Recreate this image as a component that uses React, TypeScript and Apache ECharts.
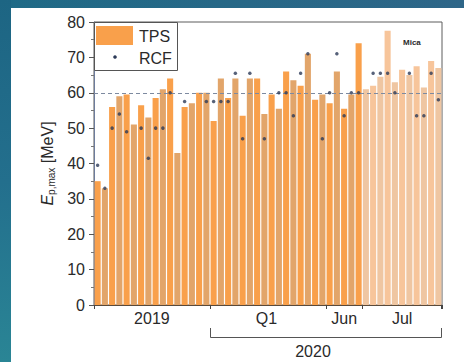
import React, { useEffect, useRef } from "react";
import * as echarts from "echarts";

const periods = ["2019", "Q1", "Jun", "Jul"];
const periodCounts = [16, 16, 5, 11];
const labelIndex = [7, 23, 34, 42];
const tickIndex = [0, 16, 32, 37];
const yTicks = [0, 10, 20, 30, 40, 50, 60, 70, 80];

const tpsValues = [
  35, 33, 56, 59, 59.5, 51, 56.5, 53, 58.5, 61, 64, 43, 56, 57, 60, 60,
  52, 64, 58.5, 64, 53.5, 64, 64, 54, 59.5, 55.5, 66, 63.5, 62, 71, 58, 59.5,
  57, 66, 55.5, 59.5, 74,
  61, 62, 64.5, 77.5, 63, 66.5, 65, 67.5, 61.5, 69, 67,
];

const rcfValues = [
  39.5, 33, 50, 54, 49, null, 50, 41.5, 50, 50, 60, null, 57.5, null, null, 57.5,
  57.5, 57.5, 57.5, 65.5, 47, 65.5, null, 47, null, 60, 60, 53.5, 65.5, 71, null, 47,
  60, 71, 53.5, 60, 60,
  null, 65.5, 65.5, 65.5, 60, null, 65.5, 53.5, 53.5, 65.5, 58,
];

const referenceLevel = 60;

const categories: string[] = periods.flatMap((p, k) =>
  Array.from({ length: periodCounts[k] }, (_, j) => `${p} #${j + 1}`)
);

const FONT = "'Liberation Sans', Arial, sans-serif";

export default function App() {
  const ref = useRef<HTMLDivElement>(null);
  useEffect(() => {
    if (!ref.current) return;
    const chart = echarts.init(ref.current, undefined, { renderer: "svg" });
    const julStart = periodCounts[0] + periodCounts[1] + periodCounts[2];
    chart.setOption({
      animation: false,
      backgroundColor: "#ffffff",
      grid: {
        left: 94,
        top: 22,
        width: 348,
        height: 283,
        show: true,
        borderColor: "#5c5c5c",
        borderWidth: 1,
        backgroundColor: "#ffffff",
      },
      xAxis: {
        type: "category",
        data: categories,
        boundaryGap: true,
        axisLine: { show: true, lineStyle: { color: "#5a4a3a", width: 1 } },
        axisTick: {
          show: true,
          interval: (i: number) => tickIndex.includes(i),
          length: 4,
          lineStyle: { color: "#444" },
        },
        axisLabel: {
          interval: (i: number) => labelIndex.includes(i),
          formatter: (_v: string, i: number) => {
            const k = labelIndex.indexOf(i);
            if (k < 0) return "";
            const key = k === 0 ? "a" : k === 1 ? "b" : "c";
            return `{${key}|${periods[k]}}`;
          },
          margin: 5,
          fontSize: 16,
          color: "#2a2a2a",
          fontFamily: FONT,
          rich: {
            a: { fontSize: 16, color: "#2a2a2a", fontFamily: FONT, padding: [0, 0, 0, 7] },
            b: { fontSize: 16, color: "#2a2a2a", fontFamily: FONT, padding: [0, 0, 0, 4] },
            c: { fontSize: 16, color: "#2a2a2a", fontFamily: FONT },
          },
        },
        splitLine: { show: false },
      },
      yAxis: {
        type: "value",
        min: yTicks[0],
        max: yTicks[yTicks.length - 1],
        interval: 10,
        axisLine: { show: true, lineStyle: { color: "#6d7c9c", width: 1 } },
        axisTick: { show: true, inside: false, length: 5, lineStyle: { color: "#555" } },
        minorTick: { show: true, splitNumber: 2, length: 3, lineStyle: { color: "#777" } },
        splitLine: { show: false },
        axisLabel: { fontSize: 16, color: "#2a2a2a", margin: 9, fontFamily: FONT },
        name: "{e|E}{s|p,max}{u| [MeV]}",
        nameLocation: "middle",
        nameGap: 38,
        nameRotate: 90,
        nameTextStyle: {
          fontFamily: FONT,
          rich: {
            e: { fontSize: 16, fontStyle: "italic", color: "#2a2a2a", fontFamily: FONT, lineHeight: 18 },
            s: { fontSize: 10, color: "#2a2a2a", fontFamily: FONT, verticalAlign: "bottom", lineHeight: 12 },
            u: { fontSize: 16, color: "#2a2a2a", fontFamily: FONT, lineHeight: 18 },
          },
        },
      },
      series: [
        {
          name: "TPS",
          type: "bar",
          data: tpsValues,
          barCategoryGap: "16%",
          itemStyle: {
            color: (p: any) => {
              const odd = p.dataIndex % 2 === 1;
              if (p.dataIndex >= julStart) return odd ? "#efc6a2" : "#f7c59b";
              return odd ? "#e2a56a" : "#f9a04b";
            },
          },
          z: 2,
        },
        {
          name: "RCF",
          type: "scatter",
          data: rcfValues.map((v) => (v == null ? "-" : v)),
          symbol: "circle",
          symbolSize: 3.5,
          itemStyle: { color: "#2c3a58" },
          z: 5,
          markLine: {
            silent: true,
            symbol: "none",
            label: { show: false },
            lineStyle: { color: "#7d8aa0", type: [4, 3], width: 1 },
            data: [{ yAxis: referenceLevel }],
          },
        },
      ],
      graphic: [
        {
          type: "rect",
          shape: { x: 0, y: 0, width: 464, height: 8 },
          style: {
            fill: new echarts.graphic.LinearGradient(0, 0, 1, 0, [
              { offset: 0, color: "#1f6a86" },
              { offset: 1, color: "#2e6688" },
            ]),
          },
          z: 0,
        },
        {
          type: "rect",
          shape: { x: 0, y: 0, width: 11, height: 362 },
          style: {
            fill: new echarts.graphic.LinearGradient(0, 0, 0, 1, [
              { offset: 0, color: "#1d6583" },
              { offset: 0.5, color: "#236f8d" },
              { offset: 1, color: "#2a8595" },
            ]),
          },
          z: 0,
        },
        {
          type: "line",
          shape: { x1: 441.5, y1: 305, x2: 441.5, y2: 309 },
          style: { stroke: "#444", lineWidth: 1 },
          z: 11,
        },
        {
          type: "rect",
          shape: { x: 94.5, y: 22.5, width: 83, height: 48 },
          style: { fill: "#ffffff", stroke: "#555", lineWidth: 1 },
          z: 10,
        },
        {
          type: "rect",
          shape: { x: 96, y: 26, width: 37, height: 19 },
          style: { fill: "#f9a04b" },
          z: 11,
        },
        {
          type: "text",
          x: 139,
          y: 36,
          style: { text: "TPS", fontSize: 16, fontFamily: FONT, fill: "#2a2a2a", verticalAlign: "middle" },
          z: 11,
        },
        {
          type: "circle",
          shape: { cx: 115, cy: 57, r: 1.8 },
          style: { fill: "#2c3a58" },
          z: 11,
        },
        {
          type: "text",
          x: 139,
          y: 58,
          style: { text: "RCF", fontSize: 16, fontFamily: FONT, fill: "#2a2a2a", verticalAlign: "middle" },
          z: 11,
        },
        {
          type: "text",
          x: 403,
          y: 42,
          style: { text: "Mica", fontSize: 8, fontWeight: "bold", fontFamily: FONT, fill: "#2a2a2a", verticalAlign: "middle" },
          z: 11,
        },
        {
          type: "polyline",
          shape: { points: [[210.5, 328], [210.5, 337.5], [441.5, 337.5], [441.5, 328]] },
          style: { stroke: "#555", lineWidth: 1, fill: "none" },
          z: 11,
        },
        {
          type: "text",
          x: 313,
          y: 351,
          style: { text: "2020", fontSize: 16, fontFamily: FONT, fill: "#2a2a2a", align: "center", verticalAlign: "middle" },
          z: 11,
        },
      ],
    });
    return () => chart.dispose();
  }, []);
  return (
    <div
      ref={ref}
      style={{ position: "absolute", left: 0, top: 0, width: 464, height: 362 }}
    />
  );
}
